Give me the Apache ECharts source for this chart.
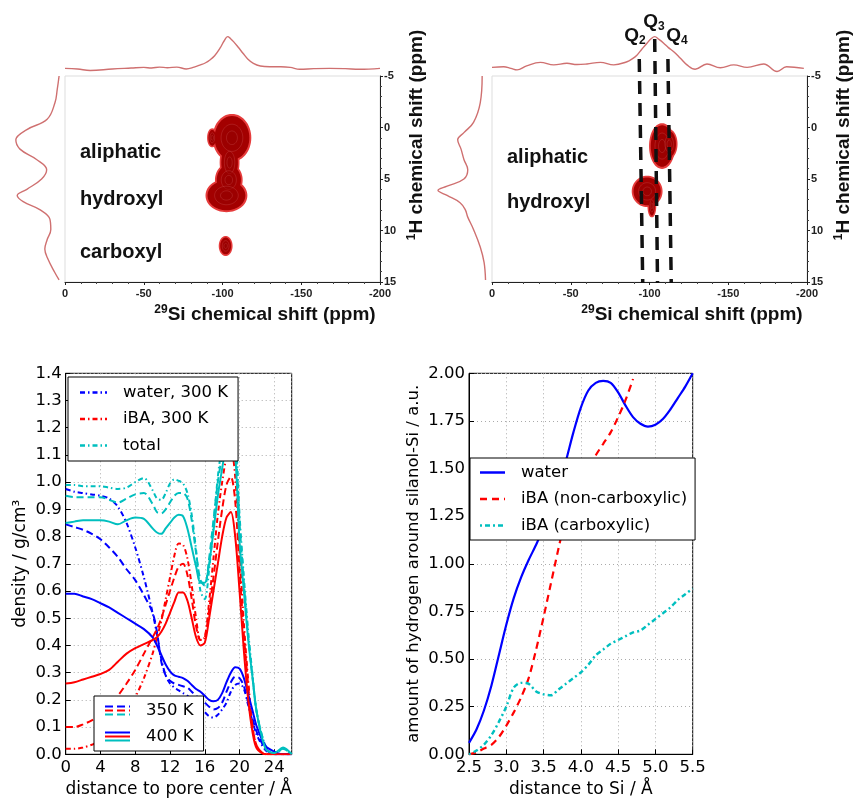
<!DOCTYPE html>
<html><head><meta charset="utf-8">
<script src="https://cdn.jsdelivr.net/npm/echarts/dist/echarts.min.js"></script>
<style>html,body{margin:0;padding:0;background:#fff}#c{width:854px;height:801px}</style>
</head><body><div id="c"></div>
<script>
// ---------- top-left NMR panel ----------
const siPPM_TL   = [0,-8,-16,-30,-42,-50,-55,-60,-65,-71,-77,-82,-86,-89,-92,-95,-98.4,-101,-103.3,-105,-107,-110,-113,-116,-119.6,-124,-130,-137,-143,-149,-158,-168,-178,-187,-200];
const projTop_TL = [-0.02,-0.04,-0.09,-0.04,-0.01,0.01,-0.01,0.02,0.0,0.02,-0.04,0.02,0.09,0.15,0.245,0.38,0.62,0.85,0.99,0.93,0.83,0.65,0.46,0.28,0.14,0.055,0.03,0.03,0.01,-0.05,-0.03,-0.02,-0.03,-0.05,-0.02];
const hPPM_TL    = [-5.0,-3.7,-2.4,-0.8,0.2,1.2,2.1,3.1,4.1,5.0,6.0,6.6,7.2,8.0,8.9,9.9,10.9,11.8,12.8,14.1,14.8];
const projLeft_TL= [0.02,0.06,0.11,0.28,0.72,0.96,0.87,0.51,0.29,0.40,0.72,0.93,0.80,0.43,0.22,0.20,0.28,0.33,0.26,0.11,0.02];
const blobTL_cx = [-106,-93.5,-104.5,-104,-102.5,-102];
const blobTL_cy = [1.0,1.0,3.4,5.1,6.6,11.5];
const blobTL_rx = [11.5,2.5,5.5,8,12.5,3.6];
const blobTL_ry = [2.2,0.8,1.8,1.5,1.5,0.85];

// ---------- top-right NMR panel ----------
const siPPM_TR   = [0,-7.4,-12,-15.9,-22,-30.7,-39.2,-47.6,-54,-60.3,-68.8,-77.3,-85.7,-89,-92,-95,-98.4,-101,-103.3,-106,-109,-112,-115.4,-119.6,-123.8,-129,-136.5,-145,-153.5,-162,-172.5,-181,-187,-198];
const projTop_TR = [0.01,0.03,-0.02,-0.07,0.06,0.17,0.09,0.14,0.10,0.12,0.17,0.09,0.19,0.28,0.40,0.58,0.78,0.92,0.99,0.90,0.78,0.64,0.51,0.30,0.09,-0.05,0.12,0.0,0.09,0.01,0.12,-0.12,0.03,-0.02];
const hPPM_TR    = [-5.0,-2.4,-0.5,0.5,1.2,2.1,3.1,4.1,5.0,5.7,6.1,6.6,7.3,8.0,8.7,9.9,11.6,13.1,14.8];
const projLeft_TR= [0.08,0.12,0.26,0.46,0.59,0.52,0.46,0.38,0.46,0.81,1.0,0.81,0.54,0.43,0.38,0.26,0.12,0.04,0.01];
const blobTR_cx = [-108,-112.5,-98.5,-101.5];
const blobTR_cy = [1.8,1.6,6.2,7.6];
const blobTR_rx = [7.5,4.5,9,2];
const blobTR_ry = [2.1,1.3,1.4,1.0];
const qSub      = ['2','3','4'];
const qTopPPM   = [-93.5,-103.3,-111.7];
const qBotPPM   = [-95.7,-105.1,-113.8];
const qTopLevel = [0.918,1,0.918];

// ---------- bottom-left: density profiles ----------
const xPore    = [0,1,2,3,4,5,6,7,8,9,10,10.5,11,11.5,12,12.5,13,13.5,14,14.5,15,15.5,16,16.5,17,17.5,18,18.5,19,19.5,20,20.5,21,21.5,22,23,24,25,26];
const water300 = [0.975,0.965,0.96,0.955,0.95,0.94,0.91,0.85,0.76,0.65,0.52,0.44,0.35,0.29,0.26,0.245,0.235,0.225,0.215,0.20,0.185,0.17,0.155,0.14,0.135,0.145,0.165,0.19,0.23,0.255,0.26,0.24,0.18,0.12,0.07,0.015,0,0,0];
const water350 = [0.845,0.835,0.825,0.81,0.79,0.76,0.725,0.68,0.64,0.585,0.52,0.45,0.34,0.29,0.27,0.26,0.255,0.25,0.245,0.23,0.215,0.205,0.19,0.175,0.165,0.17,0.19,0.23,0.265,0.285,0.28,0.25,0.19,0.13,0.08,0.02,0,0,0];
const water400 = [0.59,0.59,0.58,0.57,0.555,0.54,0.52,0.50,0.48,0.46,0.43,0.40,0.365,0.33,0.305,0.29,0.285,0.28,0.27,0.255,0.24,0.23,0.215,0.20,0.195,0.20,0.225,0.265,0.30,0.32,0.315,0.28,0.22,0.16,0.10,0.03,0.01,0,0];
const iba300   = [0.02,0.02,0.025,0.035,0.05,0.08,0.115,0.16,0.21,0.28,0.37,0.43,0.49,0.57,0.65,0.73,0.775,0.77,0.72,0.62,0.50,0.42,0.43,0.56,0.72,0.88,1.0,1.09,1.12,1.02,0.75,0.48,0.27,0.10,0.03,0,0,0,0];
const iba350   = [0.10,0.10,0.11,0.125,0.145,0.18,0.215,0.26,0.31,0.37,0.43,0.46,0.50,0.55,0.60,0.65,0.69,0.70,0.66,0.57,0.47,0.42,0.43,0.53,0.65,0.78,0.90,0.99,1.02,0.93,0.68,0.44,0.25,0.10,0.03,0,0,0,0];
const iba400   = [0.26,0.265,0.275,0.285,0.295,0.31,0.34,0.37,0.39,0.405,0.42,0.43,0.45,0.48,0.52,0.56,0.595,0.595,0.565,0.50,0.43,0.40,0.41,0.50,0.60,0.70,0.80,0.87,0.89,0.80,0.60,0.38,0.20,0.08,0.02,0,0,0,0];
const total300 = [0.99,0.99,0.985,0.985,0.985,0.98,0.975,0.98,1.0,1.015,0.97,0.94,0.935,0.96,0.995,1.01,1.005,0.995,0.96,0.88,0.75,0.60,0.57,0.68,0.84,1.02,1.14,1.24,1.28,1.20,0.88,0.65,0.45,0.29,0.15,0.03,0.0,0.02,0];
const total350 = [0.95,0.945,0.945,0.945,0.945,0.935,0.925,0.94,0.955,0.96,0.92,0.89,0.885,0.90,0.925,0.95,0.96,0.96,0.94,0.86,0.74,0.64,0.62,0.72,0.86,1.0,1.10,1.20,1.24,1.16,0.85,0.63,0.43,0.28,0.15,0.03,0.0,0.02,0];
const total400 = [0.85,0.855,0.86,0.86,0.86,0.855,0.845,0.86,0.87,0.865,0.83,0.815,0.81,0.83,0.85,0.87,0.88,0.875,0.83,0.76,0.69,0.63,0.63,0.70,0.82,0.95,1.05,1.14,1.17,1.10,0.78,0.60,0.42,0.28,0.15,0.02,0.005,0.025,0];

// ---------- bottom-right: hydrogen around silanol-Si ----------
const xSi        = [2.5,2.6,2.7,2.8,2.9,3.0,3.1,3.2,3.3,3.4,3.5,3.6,3.7,3.8,3.9,4.0,4.1,4.2,4.3,4.4,4.5,4.6,4.7,4.8,4.9,5.0,5.1,5.2,5.3,5.4,5.5];
const waterH     = [0.06,0.13,0.23,0.36,0.52,0.68,0.82,0.93,1.02,1.10,1.19,1.29,1.40,1.54,1.69,1.82,1.91,1.95,1.96,1.95,1.90,1.83,1.77,1.735,1.72,1.73,1.76,1.81,1.87,1.93,2.0];
const ibaNonCarb = [0.0,0.01,0.03,0.05,0.09,0.15,0.22,0.30,0.40,0.55,0.72,0.90,1.08,1.25,1.38,1.45,1.50,1.57,1.63,1.69,1.77,1.86,1.97];
const ibaCarb    = [0.0,0.02,0.05,0.10,0.17,0.25,0.35,0.375,0.37,0.33,0.315,0.31,0.34,0.37,0.40,0.43,0.47,0.52,0.55,0.58,0.60,0.62,0.64,0.65,0.68,0.71,0.74,0.77,0.81,0.84,0.87];

// ================= build =================
const BLUE='#0000ff', RED='#ff0000', CYAN='#00bfbf';
const NMR='#cf7070';
const ARIAL='"Liberation Sans", Arial, sans-serif';
const DV='"DejaVu Sans", sans-serif';
const pair=(xs,ys)=>ys.map((v,i)=>[xs[i],v]);
const blobs=(cx,cy,rx,ry)=>cx.map((v,i)=>[v,cy[i],rx[i],ry[i]]);

function ellipseRender(fill, stroke, lw, scales){
  return function(params, api){
    const c = api.coord([api.value(0), api.value(1)]);
    const s = api.size([api.value(2), api.value(3)], [api.value(0), api.value(1)]);
    const children = scales.map(sc=>{
      const rx=Math.abs(s[0])*sc, ry=Math.abs(s[1])*sc, pts=[];
      for(let k=0;k<60;k++){const a=k/60*2*Math.PI;pts.push([c[0]+rx*Math.cos(a),c[1]+ry*Math.sin(a)]);}
      return {type:'polygon',shape:{points:pts},style:{fill:fill,stroke:stroke,lineWidth:lw}};
    });
    return {type:'group',children};
  };
}
function blobSeries(data, xi, yi){
  return [
    {type:'custom',coordinateSystem:'cartesian2d',xAxisIndex:xi,yAxisIndex:yi,data,silent:true,z:2,
      renderItem:ellipseRender('#d81e1e','#e63c3c',2.5,[1])},
    {type:'custom',coordinateSystem:'cartesian2d',xAxisIndex:xi,yAxisIndex:yi,data,silent:true,z:3,
      renderItem:ellipseRender('#a30000',null,0,[0.96])},
    {type:'custom',coordinateSystem:'cartesian2d',xAxisIndex:xi,yAxisIndex:yi,data,silent:true,z:4,
      renderItem:ellipseRender('rgba(150,0,0,0.5)','rgba(255,170,170,0.16)',1,[0.6,0.3])}
  ];
}

const hidX=(gi,min,max,inv)=>({type:'value',gridIndex:gi,min,max,inverse:!!inv,show:false});
const nmrX=(gi)=>({type:'value',gridIndex:gi,min:-200,max:0,interval:50,inverse:true,
  axisLine:{show:true,onZero:false,lineStyle:{color:'#222',width:1}},
  axisTick:{show:true,length:3,lineStyle:{color:'#222'}},
  minorTick:{show:true,splitNumber:5,length:2,lineStyle:{color:'#444'}},
  axisLabel:{fontFamily:ARIAL,fontWeight:'bold',fontSize:11,color:'#222',margin:6},
  splitLine:{show:false}});
const nmrY=(gi)=>({type:'value',gridIndex:gi,min:-5,max:15,interval:5,inverse:true,position:'right',
  axisLine:{show:true,onZero:false,lineStyle:{color:'#222',width:1}},
  axisTick:{show:true,length:3,lineStyle:{color:'#222'}},
  minorTick:{show:true,splitNumber:5,length:2,lineStyle:{color:'#444'}},
  axisLabel:{fontFamily:ARIAL,fontWeight:'bold',fontSize:11,color:'#222',margin:4},
  splitLine:{show:false}});

const dotted={show:true,lineStyle:{color:'#aaa',type:[1,3],width:1}};
const ax={show:true,onZero:false,lineStyle:{color:'#000',width:1}};
const tk={show:true,inside:true,length:5,lineStyle:{color:'#000'}};

const grids=[
  {left:65,top:76,width:315,height:206,show:true,borderColor:'#ddd',borderWidth:1,backgroundColor:'#fff'}, //0
  {left:65,top:30,width:315,height:44}, //1
  {left:14,top:76,width:46,height:206}, //2
  {left:492,top:76,width:315,height:206,show:true,borderColor:'#ddd',borderWidth:1,backgroundColor:'#fff'}, //3
  {left:492,top:30,width:315,height:44}, //4
  {left:438,top:76,width:48,height:206}, //5
  {left:492,top:39,width:315,height:244}, //6
  {left:65.7,top:373.3,width:226,height:381,show:true,borderColor:'#000',borderWidth:1}, //7
  {left:469,top:373.3,width:223.7,height:381,show:true,borderColor:'#000',borderWidth:1} //8
].map(g=>Object.assign({outerBoundsMode:'none',containLabel:false},g));

const xAxes=[
  nmrX(0), hidX(1,-200,0,true), hidX(2,0,1,true),
  nmrX(3), hidX(4,-200,0,true), hidX(5,0,1,true), hidX(6,-200,0,true),
  {type:'value',gridIndex:7,min:0,max:26,interval:4,axisLine:ax,axisTick:tk,splitLine:dotted,
    axisLabel:{fontFamily:DV,fontSize:16.5,color:'#000',margin:5,showMaxLabel:false},
    name:'distance to pore center / Å',nameLocation:'middle',nameGap:27,
    nameTextStyle:{fontFamily:DV,fontSize:17,color:'#000'}},
  {type:'value',gridIndex:8,min:2.5,max:5.5,interval:0.5,axisLine:ax,axisTick:tk,splitLine:dotted,
    axisLabel:{fontFamily:DV,fontSize:16.5,color:'#000',margin:5,formatter:v=>v.toFixed(1)},
    name:'distance to Si / Å',nameLocation:'middle',nameGap:27,
    nameTextStyle:{fontFamily:DV,fontSize:17,color:'#000'}}
];
const yAxes=[
  nmrY(0), hidX(1,-0.2,1.2,false), hidX(2,-5,15,true),
  nmrY(3), hidX(4,-0.2,1.2,false), hidX(5,-5,15,true), hidX(6,0,1,false),
  {type:'value',gridIndex:7,min:0,max:1.4,interval:0.1,axisLine:ax,axisTick:tk,splitLine:dotted,
    axisLabel:{fontFamily:DV,fontSize:16.5,color:'#000',margin:4,formatter:v=>v.toFixed(1)},
    name:'density / g/cm³',nameLocation:'middle',nameGap:37,
    nameTextStyle:{fontFamily:DV,fontSize:17,color:'#000'}},
  {type:'value',gridIndex:8,min:0,max:2,interval:0.25,axisLine:ax,axisTick:tk,splitLine:dotted,
    axisLabel:{fontFamily:DV,fontSize:16.5,color:'#000',margin:4,formatter:v=>v.toFixed(2)},
    name:'amount of hydrogen around silanol-Si / a.u.',nameLocation:'middle',nameGap:47,
    nameTextStyle:{fontFamily:DV,fontSize:16.5,color:'#000'}}
];

const series=[];
const proj=(xi,data)=>({type:'line',xAxisIndex:xi,yAxisIndex:xi,data,symbol:'none',smooth:0.4,silent:true,
  lineStyle:{color:NMR,width:1.4},color:NMR});
series.push(proj(1,pair(siPPM_TL,projTop_TL)));
series.push(proj(2,projLeft_TL.map((v,i)=>[v,hPPM_TL[i]])));
series.push(proj(4,pair(siPPM_TR,projTop_TR)));
series.push(proj(5,projLeft_TR.map((v,i)=>[v,hPPM_TR[i]])));
series.push(...blobSeries(blobs(blobTL_cx,blobTL_cy,blobTL_rx,blobTL_ry),0,0));
series.push(...blobSeries(blobs(blobTR_cx,blobTR_cy,blobTR_rx,blobTR_ry),3,3));
qSub.forEach((q,i)=>series.push({type:'line',xAxisIndex:6,yAxisIndex:6,symbol:'none',silent:true,z:6,
  data:[[qTopPPM[i],qTopLevel[i]],[qBotPPM[i],0]],lineStyle:{color:'#111',width:3.5,type:[13,9]}}));

const DASHDOT=[5,3,1.5,3], DASH=[7,4];
const pl=(name,vals,color,type)=>({type:'line',name,xAxisIndex:7,yAxisIndex:7,data:pair(xPore,vals),symbol:'none',
  smooth:0.3,color,lineStyle:{color,width:2,type},z:3});
series.push(pl('water, 300 K',water300,BLUE,DASHDOT));
series.push(pl('iBA, 300 K',iba300,RED,DASHDOT));
series.push(pl('total',total300,CYAN,DASHDOT));
series.push(pl('water, 350 K',water350,BLUE,DASH));
series.push(pl('iBA, 350 K',iba350,RED,DASH));
series.push(pl('total, 350 K',total350,CYAN,DASH));
series.push(pl('water, 400 K',water400,BLUE,'solid'));
series.push(pl('iBA, 400 K',iba400,RED,'solid'));
series.push(pl('total, 400 K',total400,CYAN,'solid'));
series.push({type:'line',name:'350 K',xAxisIndex:7,yAxisIndex:7,data:[],color:'#888'});
series.push({type:'line',name:'400 K',xAxisIndex:7,yAxisIndex:7,data:[],color:'#888'});

const bl=(name,vals,color,type,w)=>({type:'line',name,xAxisIndex:8,yAxisIndex:8,data:pair(xSi,vals),symbol:'none',
  smooth:0.3,color,lineStyle:{color,width:w,type},z:3});
series.push(bl('water',waterH,BLUE,'solid',2.2));
series.push(bl('iBA (non-carboxylic)',ibaNonCarb,RED,[7,5],2.2));
series.push(bl('iBA (carboxylic)',ibaCarb,CYAN,[2,3,5,3],2.4));

const svgURI=svg=>'image://data:image/svg+xml;charset=utf-8,'+encodeURIComponent(svg);
const lineIcon=(w,color,dash)=>svgURI("<svg xmlns='http://www.w3.org/2000/svg' width='"+w+"' height='10'>"+
  "<line x1='0' y1='5' x2='"+w+"' y2='5' stroke='"+color+"' stroke-width='2.4'"+(dash?" stroke-dasharray='"+dash+"'":"")+"/></svg>");
const triIcon=(dash)=>{
  const d = dash?" stroke-dasharray='8 4'":"";
  return svgURI("<svg xmlns='http://www.w3.org/2000/svg' width='25' height='12'>"+
    "<line x1='0' y1='2' x2='25' y2='2' stroke='#0000ff' stroke-width='2.2'"+d+"/>"+
    "<line x1='0' y1='6' x2='25' y2='6' stroke='#ff0000' stroke-width='2.2'"+d+"/>"+
    "<line x1='0' y1='10' x2='25' y2='10' stroke='#00bfbf' stroke-width='2.2'"+d+"/></svg>");
};
const legBase={orient:'vertical',backgroundColor:'#fff',borderColor:'#000',borderWidth:1,borderRadius:0,
  selectedMode:false,textStyle:{fontFamily:DV,fontSize:16.5,color:'#000',padding:[0,0,0,11]}};

const legends=[
  Object.assign({},legBase,{data:[
      {name:'water, 300 K',icon:lineIcon(27,BLUE,'5 3 1.5 3')},
      {name:'iBA, 300 K',icon:lineIcon(27,RED,'5 3 1.5 3')},
      {name:'total',icon:lineIcon(27,CYAN,'5 3 1.5 3')}],
    left:68,top:377,itemWidth:27,itemHeight:10,itemGap:9.5,padding:[7,10,7,12]}),
  Object.assign({},legBase,{data:[{name:'350 K',icon:triIcon(true)},{name:'400 K',icon:triIcon(false)}],left:94,top:696,itemWidth:25,itemHeight:12,itemGap:9,padding:[6,10,6,11]}),
  Object.assign({},legBase,{data:[
      {name:'water',icon:lineIcon(25,BLUE,null)},
      {name:'iBA (non-carboxylic)',icon:lineIcon(25,RED,'7 5')},
      {name:'iBA (carboxylic)',icon:lineIcon(25,CYAN,'2 3 5 3')}],
    left:470,top:458,itemWidth:25,itemHeight:10,itemGap:9.5,padding:[6,8,6,10]})
];

const ann=(t,x,y)=>({type:'text',x,y,z:50,style:{text:t,font:'bold 20px '+ARIAL,fill:'#111',textAlign:'left',textVerticalAlign:'middle',align:'left',verticalAlign:'middle'}});
const supRich={n:{fontFamily:ARIAL,fontWeight:'bold',fontSize:19,lineHeight:22,fill:'#111'},
  s:{fontFamily:ARIAL,fontWeight:'bold',fontSize:12,lineHeight:12,verticalAlign:'top',fill:'#111'},
  q:{fontFamily:ARIAL,fontWeight:'bold',fontSize:19,lineHeight:22,fill:'#111'},
  b:{fontFamily:ARIAL,fontWeight:'bold',fontSize:12,lineHeight:12,verticalAlign:'bottom',fill:'#111'}};
const rt=(t,x,y,rot)=>({type:'text',x,y,rotation:rot||0,z:50,style:{text:t,rich:supRich,textAlign:'center',textVerticalAlign:'middle',align:'center',verticalAlign:'middle'}});

const graphic=[
  ann('aliphatic',80,152), ann('hydroxyl',80,199), ann('carboxyl',80,252),
  ann('aliphatic',507,157), ann('hydroxyl',507,202),
  rt('{s|29}{n|Si chemical shift (ppm)}',265,315), rt('{s|29}{n|Si chemical shift (ppm)}',692,315),
  rt('{s|1}{n|H chemical shift (ppm)}',417,135,Math.PI/2), rt('{s|1}{n|H chemical shift (ppm)}',844,135,Math.PI/2),
  rt('{q|Q}{b|'+qSub[0]+'}',635,36), rt('{q|Q}{b|'+qSub[1]+'}',654,22), rt('{q|Q}{b|'+qSub[2]+'}',677,36)
];

const chart=echarts.init(document.getElementById('c'),null,{renderer:'canvas'});
chart.setOption({backgroundColor:'#fff',animation:false,grid:grids,xAxis:xAxes,yAxis:yAxes,series,legend:legends,graphic});
</script></body></html>
